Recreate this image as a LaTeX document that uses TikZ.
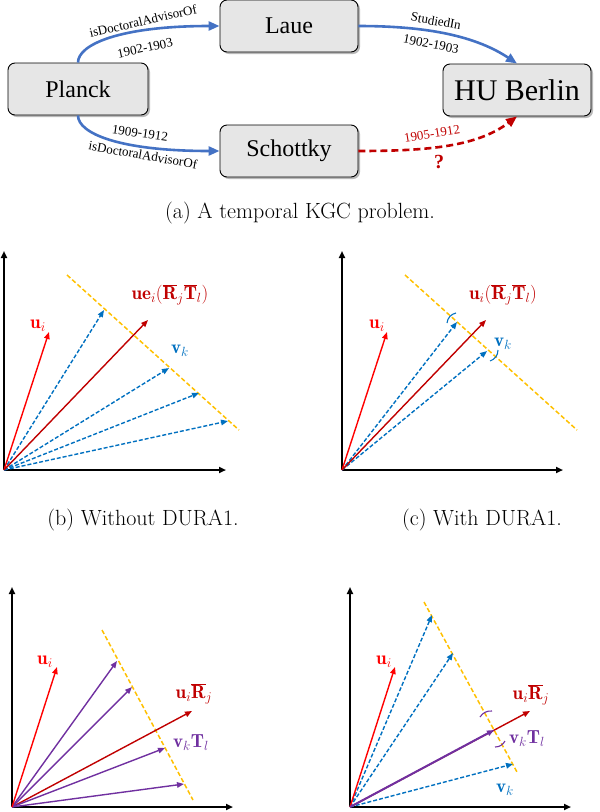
\RequirePackage{fix-cm}
\documentclass[tikz,border=0pt]{standalone}
\usepackage{fontspec}
\newfontfamily\tnr{Liberation Serif}
\usetikzlibrary{arrows.meta,shadows}
\definecolor{eblue}{HTML}{4472C4}
\definecolor{dred}{HTML}{C00000}
\definecolor{bred}{HTML}{FF0000}
\definecolor{vblue}{HTML}{0070C0}
\definecolor{yel}{HTML}{FFC000}
\definecolor{purp}{HTML}{7030A0}
\definecolor{boxgray}{HTML}{E6E6E6}
\tikzset{
  ent/.style={draw=black, line width=0.9pt, fill=boxgray, rounded corners=7pt,
    drop shadow={shadow xshift=2pt, shadow yshift=-2pt, opacity=0.55, fill=gray},
    font=\tnr\fontsize{24}{28}\selectfont, inner sep=0pt, minimum height=52pt},
  rel/.style={line width=2.6pt, -{Triangle[length=11pt,width=9pt]}},
  elab/.style={font=\tnr\fontsize{13}{15}\selectfont, inner sep=0pt},
  vec/.style={line width=1.4pt, -{Triangle[length=7pt,width=5.5pt]}},
  dvec/.style={vec, dash pattern=on 4pt off 2pt},
  axis/.style={line width=1.8pt, -{Triangle[length=7pt,width=6pt]}},
  yline/.style={draw=yel, line width=1.5pt, dash pattern=on 4.5pt off 2.5pt},
  mlab/.style={font=\fontsize{19}{22}\selectfont, inner sep=0pt},
  captext/.style={font=\fontsize{22}{26}\selectfont, inner sep=0pt},
  tickmark/.style={line width=1.1pt}
}
\begin{document}
\begin{tikzpicture}[x=1pt,y=-1pt]
\useasboundingbox (0,0) rectangle (600,812);

% ---------- (a) temporal KGC ----------
\node[ent, minimum width=140pt] (planck) at (78,89) {Planck};
\node[ent, minimum width=138pt] (laue) at (289,26) {Laue};
\node[ent, minimum width=138pt] (schottky) at (289,151) {Schottky};
\node[ent, minimum width=148pt, font=\tnr\fontsize{30}{34}\selectfont] (hu) at (517,90) {HU Berlin};

\draw[rel, eblue] (planck.north) .. controls +(0,-18) and +(-100,0) .. (laue.west);
\draw[rel, eblue] (planck.south) .. controls +(0,18) and +(-100,0) .. (schottky.west);
\draw[rel, eblue] (laue.east) .. controls +(60,0) and +(-45,-30) .. (hu.north);
\draw[rel, dred, dash pattern=on 7pt off 4pt] (schottky.east) .. controls +(70,0) and +(-40,30) .. (hu.south);

\node[elab, rotate=13] (l1) at (143,21) {isDoctoralAdvisorOf};
\node[elab, rotate=12] (l2) at (145,48) {1902-1903};
\node[elab, rotate=-8] (l3) at (140,133) {1909-1912};
\node[elab, rotate=-10] (l4) at (143,155) {isDoctoralAdvisorOf};
\node[elab, rotate=-10] (l5) at (436,21) {StudiedIn};
\node[elab, rotate=-11] (l6) at (431,44) {1902-1903};
\node[elab, rotate=9, text=dred] (l7) at (432,134) {1905-1912};
\node[inner sep=0pt, text=dred, font=\tnr\bfseries\fontsize{20}{22}\selectfont] (q) at (439,162) {?};

\node[captext] (capa) at (300,213) {(a) A temporal KGC problem.};

% ---------- (b) Without DURA1 ----------
\coordinate (bO) at (4,470);
\coordinate (bY) at (4,251);
\coordinate (bX) at (226,470);
\draw[axis] (bO) -- (bY);
\draw[axis] (bO) -- (bX);
\coordinate (bv1) at (104,310);
\coordinate (bv2) at (169,368);
\coordinate (bv3) at (199,393);
\coordinate (bv4) at (228,421);
\coordinate (bU) at (49,332);
\coordinate (bR) at (148,320);
\coordinate (bya) at (67,275);
\coordinate (byb) at (239,430);
\draw[yline] (bya) -- (byb);
\foreach \v in {bv1,bv2,bv3,bv4} \draw[dvec, vblue] (bO) -- (\v);
\draw[vec, bred] (bO) -- (bU);
\draw[vec, dred] (bO) -- (bR);
\node[mlab, text=bred] (bUl) at (38,326) {$\mathbf{u}_i$};
\node[mlab, text=dred] (bRl) at (170,295) {$\mathbf{ue}_i(\overline{\mathbf{R}}_j\overline{\mathbf{T}}_l)$};
\node[mlab, text=vblue] (bVl) at (180,351) {$\mathbf{v}_k$};
\node[captext] (capb) at (143,520) {(b) Without DURA1.};

% ---------- (c) With DURA1 ----------
\coordinate (cO) at (342,470);
\coordinate (cY) at (342,251);
\coordinate (cX) at (563,470);
\draw[axis] (cO) -- (cY);
\draw[axis] (cO) -- (cX);
\coordinate (cv1) at (457,322);
\coordinate (cv2) at (487,351);
\coordinate (cU) at (387,332);
\coordinate (cR) at (486,320);
\coordinate (cya) at (405,275);
\coordinate (cyb) at (577,430);
\draw[yline] (cya) -- (cyb);
\draw[dvec, vblue] (cO) -- (cv1);
\draw[dvec, vblue] (cO) -- (cv2);
\draw[vec, bred] (cO) -- (cU);
\draw[vec, dred] (cO) -- (cR);
\coordinate (ct1a) at (447,323);
\coordinate (ct1b) at (456,313);
\coordinate (ct2a) at (490,361);
\coordinate (ct2b) at (498,350);
\draw[tickmark, vblue] (ct1a) to[bend left=35] (ct1b);
\draw[tickmark, vblue] (ct2a) to[bend right=35] (ct2b);
\node[mlab, text=bred] (cUl) at (377,326) {$\mathbf{u}_i$};
\node[mlab, text=dred] (cRl) at (503,295) {$\mathbf{u}_i(\overline{\mathbf{R}}_j\overline{\mathbf{T}}_l)$};
\node[mlab, text=vblue] (cVl) at (503,344) {$\mathbf{v}_k$};
\node[captext] (capc) at (482,520) {(c) With DURA1.};

% ---------- (d) ----------
\coordinate (dO) at (12,807);
\coordinate (dY) at (12,587);
\coordinate (dX) at (233,807);
\draw[axis] (dO) -- (dY);
\draw[axis] (dO) -- (dX);
\coordinate (dv1) at (117,661);
\coordinate (dv2) at (132,687);
\coordinate (dv3) at (165,748);
\coordinate (dv4) at (184,784);
\coordinate (dU) at (57,667);
\coordinate (dR) at (192,711);
\coordinate (dya) at (102,630);
\coordinate (dyb) at (193,800);
\draw[yline] (dya) -- (dyb);
\draw[vec, dred] (dO) -- (dR);
\foreach \v in {dv1,dv2,dv3,dv4} \draw[vec, purp] (dO) -- (\v);
\draw[vec, bred] (dO) -- (dU);
\node[mlab, text=bred] (dUl) at (45,662) {$\mathbf{u}_i$};
\node[mlab, text=dred] (dRl) at (194,694) {$\mathbf{u}_i\overline{\mathbf{R}}_j$};
\node[mlab, text=purp] (dVl) at (191,743) {$\mathbf{v}_k\mathbf{T}_l$};

% ---------- (e) ----------
\coordinate (eO) at (350,807);
\coordinate (eY) at (350,587);
\coordinate (eX) at (571,807);
\draw[axis] (eO) -- (eY);
\draw[axis] (eO) -- (eX);
\coordinate (ev1) at (432,615);
\coordinate (ev2) at (453,653);
\coordinate (ev3) at (513,764);
\coordinate (eP) at (494,730);
\coordinate (eU) at (395,667);
\coordinate (eR) at (530,711);
\coordinate (eya) at (424,602);
\coordinate (eyb) at (517,772);
\draw[yline] (eya) -- (eyb);
\foreach \v in {ev1,ev2,ev3} \draw[dvec, vblue] (eO) -- (\v);
\draw[vec, bred] (eO) -- (eU);
\draw[vec, dred] (eO) -- (eR);
\draw[vec, purp, line width=2pt] (eO) -- (eP);
\coordinate (et1a) at (480,717);
\coordinate (et1b) at (492,711);
\coordinate (et2a) at (495,747);
\coordinate (et2b) at (505,741);
\draw[tickmark, purp] (et1a) to[bend left=30] (et1b);
\draw[tickmark, purp] (et2a) to[bend right=30] (et2b);
\node[mlab, text=bred] (eUl) at (384,662) {$\mathbf{u}_i$};
\node[mlab, text=dred] (eRl) at (531,695) {$\mathbf{u}_i\overline{\mathbf{R}}_j$};
\node[mlab, text=purp] (ePl) at (527,739) {$\mathbf{v}_k\mathbf{T}_l$};
\node[mlab, text=vblue] (eVl) at (505,790) {$\mathbf{v}_k$};
\end{tikzpicture}
\end{document}
